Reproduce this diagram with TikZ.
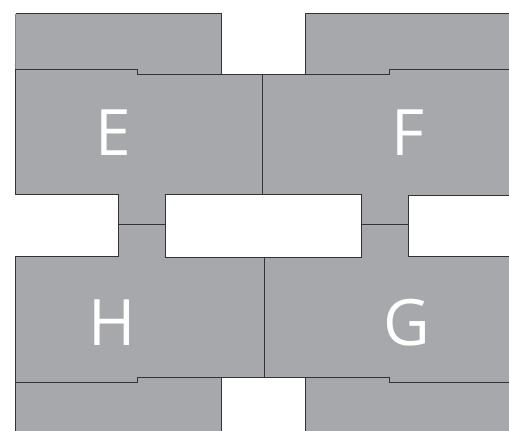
\documentclass[tikz,border=0pt]{standalone}
\usepackage{fontspec}
\setmainfont{Open Sans}
\definecolor{roomgray}{HTML}{A7A8AB}
\definecolor{wallline}{HTML}{333333}
\tikzset{
  room/.style={fill=roomgray},
  wall/.style={draw=wallline, line width=0.9pt, line join=miter},
  label/.style={text=white, font=\fontsize{64}{64}\selectfont, inner sep=0pt, anchor=center}
}
\begin{document}
\begin{tikzpicture}[x=1pt, y=-1pt]
\useasboundingbox (0,0) rectangle (509,431);
% fills
\fill[room] (15.5,13.5) rectangle (221.7,80);
\fill[room] (305.3,13.5) rectangle (515,80);
\fill[room] (15.5,69.5) -- (137,69.5) -- (137,74.3) -- (262.3,74.3) -- (262.3,194.3)
  -- (165.3,194.3) -- (165.3,224.7) -- (118.7,224.7) -- (118.7,194.7) -- (15.5,194.7) -- cycle;
\fill[room] (262.3,74.3) -- (389.3,74.3) -- (389.3,69.3) -- (515,69.3) -- (515,195.7)
  -- (408,195.7) -- (408,224.7) -- (361.7,224.7) -- (361.7,194.3) -- (262.3,194.3) -- cycle;
\fill[room] (15.5,256.7) -- (118.7,256.7) -- (118.7,224.7) -- (165.3,224.7) -- (165.3,257.7)
  -- (264.3,257.7) -- (264.3,377.3) -- (137.3,377.3) -- (137.3,382.7) -- (15.5,382.7) -- cycle;
\fill[room] (264.3,257.7) -- (361.7,257.7) -- (361.7,224.7) -- (408,224.7) -- (408,256.3)
  -- (515,256.3) -- (515,382.7) -- (389.3,382.7) -- (389.3,377.3) -- (264.3,377.3) -- cycle;
\fill[room] (15.5,375) rectangle (221.7,437);
\fill[room] (305.3,375) rectangle (515,437);
% walls
\draw[wall, draw=gray] (15.5,69.5) -- (15.5,13.5);
\draw[wall] (15.5,13.5) -- (221.7,13.5) -- (221.7,74.3);
\draw[wall] (305.3,74.3) -- (305.3,13.5) -- (515,13.5);
\draw[wall] (15.5,194.7) -- (15.5,69.5) -- (137,69.5) -- (137,74.3) -- (389.3,74.3) -- (389.3,69.3) -- (515,69.3);
\draw[wall] (262.3,74.3) -- (262.3,194.3);
\draw[wall] (15.5,194.7) -- (118.7,194.7) -- (118.7,256.7) -- (15.5,256.7) -- (15.5,382.7);
\draw[wall] (165.3,194.3) rectangle (361.7,257.7);
\draw[wall] (118.7,224.7) -- (165.3,224.7);
\draw[wall] (361.7,224.7) -- (408,224.7);
\draw[wall] (515,195.7) -- (408,195.7) -- (408,256.3) -- (515,256.3);
\draw[wall] (264.3,257.7) -- (264.3,377.3);
\draw[wall] (15.5,437) -- (15.5,382.7) -- (137.3,382.7) -- (137.3,377.3) -- (389.3,377.3) -- (389.3,382.7) -- (515,382.7);
\draw[wall] (221.7,377.3) -- (221.7,437);
\draw[wall] (305.3,377.3) -- (305.3,437);
% labels
\node[label] (E) at (113,133) {E};
\node[label] (F) at (408,133) {F};
\node[label] (H) at (112.5,323) {H};
\node[label] (G) at (407,323) {G};
\end{tikzpicture}
\end{document}
